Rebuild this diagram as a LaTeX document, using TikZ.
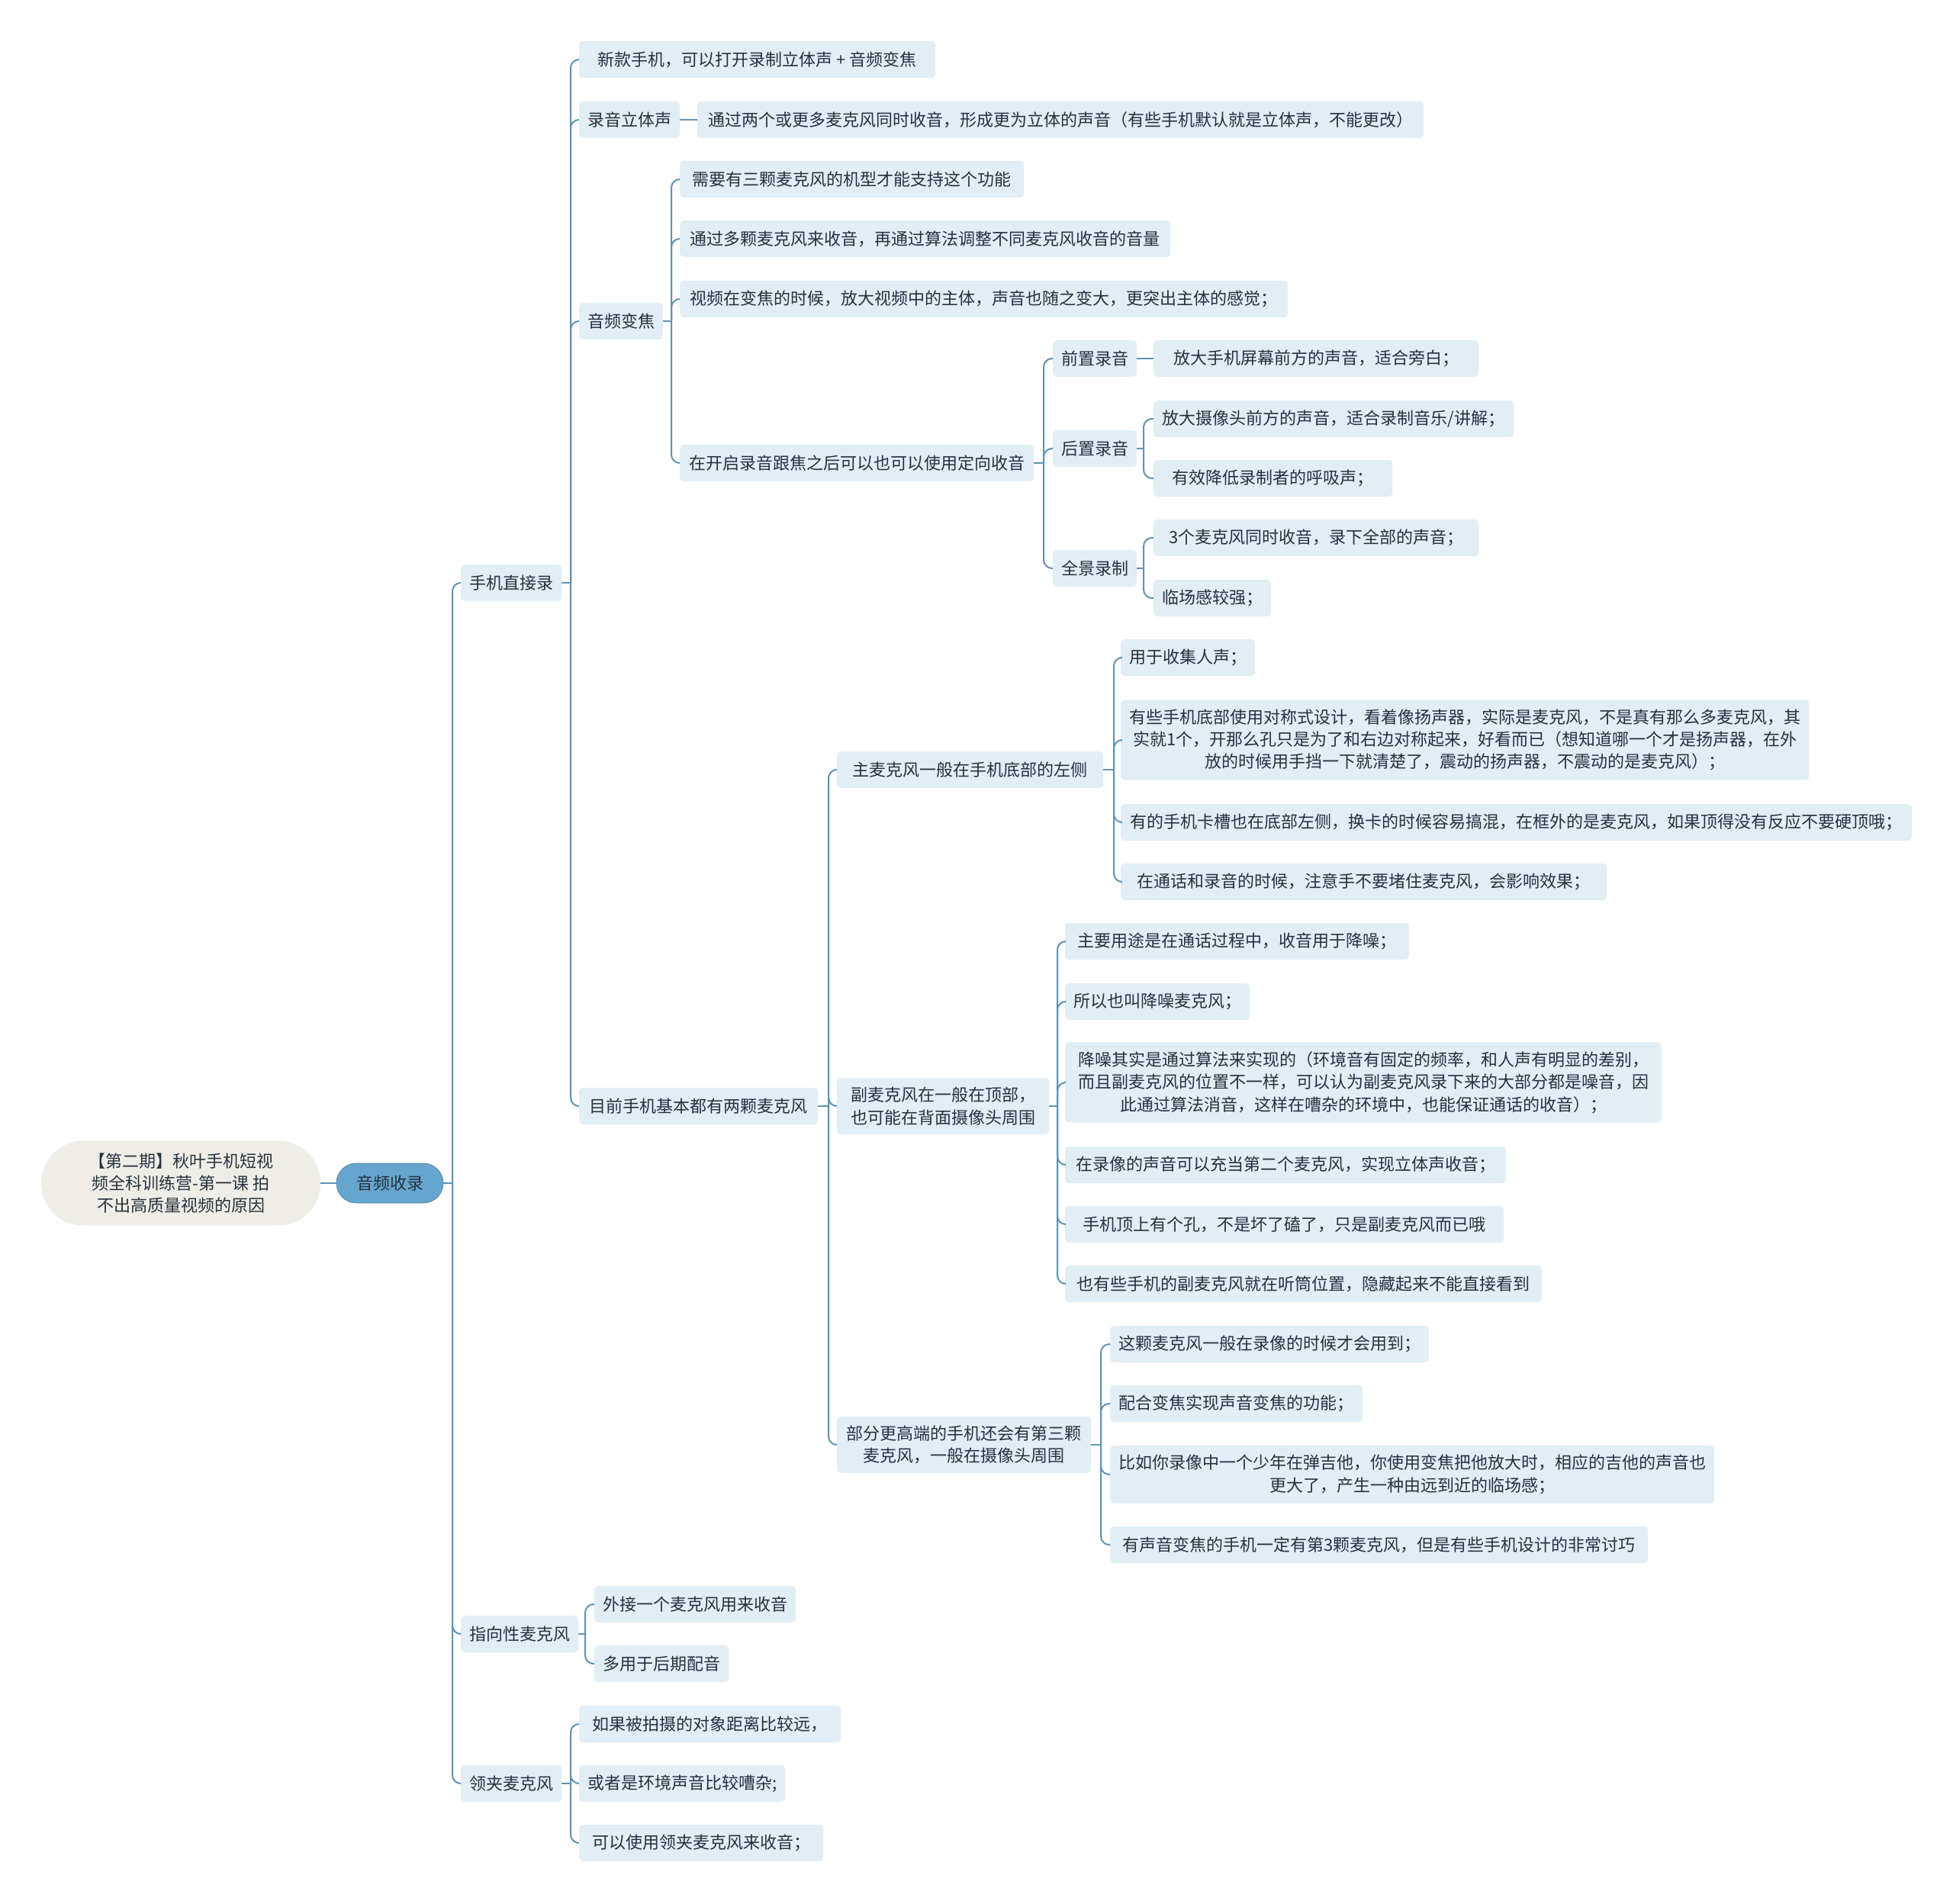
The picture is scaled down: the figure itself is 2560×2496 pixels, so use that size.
\documentclass[tikz,border=0pt]{standalone}
\usepackage{fontspec}
\newfontfamily\cjk{Noto Sans CJK SC}
\usetikzlibrary{positioning}
\definecolor{linec}{HTML}{5F93B2}
\definecolor{boxc}{HTML}{E1EEF6}
\definecolor{rootc}{HTML}{EFEEE6}
\definecolor{mainc}{HTML}{66A6CE}
\definecolor{txtc}{HTML}{25323E}

\begin{document}
\begin{tikzpicture}[x=1pt,y=-1pt,
  every node/.style={font=\cjk\fontsize{22}{29.4}\selectfont,text=txtc},
  topic/.style={anchor=west,fill=boxc,rounded corners=5pt,inner xsep=11pt,inner ysep=12pt,minimum height=48pt,align=center},
  root/.style={fill=rootc,rounded corners=55pt,minimum width=366pt,minimum height=111pt,align=center},
  main/.style={fill=mainc,draw=mainc!80!black,line width=0.8pt,rounded corners=26pt,minimum width=140pt,minimum height=52pt},
  link/.style={draw=linec,line width=2pt,rounded corners=11pt}]
  \useasboundingbox[fill=white] (0,0) rectangle (2560,2496);

  % centre
  \node[root] (root) at (237,1551) {【第二期】秋叶手机短视\\频全科训练营-第一课 拍\\不出高质量视频的原因};
  \node[main] (audio) at (511,1551) {音频收录};

  \node[topic] (zhijie) at (604,764) {手机直接录};
  \node[topic] (zhixiang) at (604,2142) {指向性麦克风};
  \node[topic] (lingjia) at (604,2338) {领夹麦克风};

  % 手机直接录
  \node[topic,minimum width=467pt] (xinkuan) at (759,78) {新款手机，可以打开录制立体声 + 音频变焦};
  \node[topic] (luyin) at (759,157) {录音立体声};
  \node[topic,minimum width=952pt] (liti) at (914,157) {通过两个或更多麦克风同时收音，形成更为立体的声音（有些手机默认就是立体声，不能更改）};
  \node[topic] (bianjiao) at (759,421) {音频变焦};
  \node[topic,minimum width=451pt] (sanke) at (891,235) {需要有三颗麦克风的机型才能支持这个功能};
  \node[topic,minimum width=643pt] (duoke) at (891,313) {通过多颗麦克风来收音，再通过算法调整不同麦克风收音的音量};
  \node[topic,minimum width=797pt] (shipin) at (891,392) {视频在变焦的时候，放大视频中的主体，声音也随之变大，更突出主体的感觉；};
  \node[topic,minimum width=464pt] (dingxiang) at (891,607) {在开启录音跟焦之后可以也可以使用定向收音};
  \node[topic] (qianzhi) at (1380,470) {前置录音};
  \node[topic,minimum width=426pt] (pangbai) at (1512,470) {放大手机屏幕前方的声音，适合旁白；};
  \node[topic] (houzhi) at (1380,588) {后置录音};
  \node[topic,minimum width=472pt] (yinyue) at (1512,549) {放大摄像头前方的声音，适合录制音乐/讲解；};
  \node[topic,minimum width=313pt] (huxi) at (1512,627) {有效降低录制者的呼吸声；};
  \node[topic] (quanjing) at (1380,745) {全景录制};
  \node[topic,minimum width=426pt] (quanbu) at (1512,705) {3个麦克风同时收音，录下全部的声音；};
  \node[topic] (linchang) at (1512,784) {临场感较强；};
  \node[topic,minimum width=313pt] (liangke) at (759,1450) {目前手机基本都有两颗麦克风};

  % 主麦克风
  \node[topic,minimum width=349pt] (zhumai) at (1097,1009) {主麦克风一般在手机底部的左侧};
  \node[topic] (renshen) at (1469,862) {用于收集人声；};
  \node[topic,minimum width=898pt] (duichen) at (1469,970) {有些手机底部使用对称式设计，看着像扬声器，实际是麦克风，不是真有那么多麦克风，其\\实就1个，开那么孔只是为了和右边对称起来，好看而已（想知道哪一个才是扬声器，在外\\放的时候用手挡一下就清楚了，震动的扬声器，不震动的是麦克风）；};
  \node[topic,minimum width=1037pt] (kacao) at (1469,1078) {有的手机卡槽也在底部左侧，换卡的时候容易搞混，在框外的是麦克风，如果顶得没有反应不要硬顶哦；};
  \node[topic,minimum width=637pt] (dusai) at (1469,1156) {在通话和录音的时候，注意手不要堵住麦克风，会影响效果；};

  % 副麦克风
  \node[topic,minimum width=278pt] (fumai) at (1097,1450) {副麦克风在一般在顶部，\\也可能在背面摄像头周围};
  \node[topic,minimum width=451pt] (jiangzao) at (1396,1234) {主要用途是在通话过程中，收音用于降噪；};
  \node[topic] (jzmai) at (1396,1313) {所以也叫降噪麦克风；};
  \node[topic,minimum width=782pt] (suanfa) at (1396,1419) {降噪其实是通过算法来实现的（环境音有固定的频率，和人声有明显的差别，\\而且副麦克风的位置不一样，可以认为副麦克风录下来的大部分都是噪音，因\\此通过算法消音，这样在嘈杂的环境中，也能保证通话的收音）；};
  \node[topic,minimum width=578pt] (chongdang) at (1396,1527) {在录像的声音可以充当第二个麦克风，实现立体声收音；};
  \node[topic,minimum width=575pt] (kongdong) at (1396,1605) {手机顶上有个孔，不是坏了磕了，只是副麦克风而已哦};
  \node[topic,minimum width=625pt] (tingtong) at (1396,1683) {也有些手机的副麦克风就在听筒位置，隐藏起来不能直接看到};

  % 第三颗
  \node[topic,minimum width=333pt] (disan) at (1097,1894) {部分更高端的手机还会有第三颗\\麦克风，一般在摄像头周围};
  \node[topic,minimum width=416pt] (luxiang) at (1455,1762) {这颗麦克风一般在录像的时候才会用到；};
  \node[topic,minimum width=331pt] (peihe) at (1455,1840) {配合变焦实现声音变焦的功能；};
  \node[topic,minimum width=790pt] (jita) at (1455,1933) {比如你录像中一个少年在弹吉他，你使用变焦把他放大时，相应的吉他的声音也\\更大了，产生一种由远到近的临场感；};
  \node[topic,minimum width=705pt] (taoqiao) at (1455,2025) {有声音变焦的手机一定有第3颗麦克风，但是有些手机设计的非常讨巧};

  % 指向性 / 领夹
  \node[topic] (waijie) at (779,2103) {外接一个麦克风用来收音};
  \node[topic] (peiyin) at (779,2181) {多用于后期配音};
  \node[topic,minimum width=343pt] (yuan) at (759,2260) {如果被拍摄的对象距离比较远，};
  \node[topic] (cauza) at (759,2338) {或者是环境声音比较嘈杂;};
  \node[topic,minimum width=320pt] (shiyong) at (759,2416) {可以使用领夹麦克风来收音；};

  % junctions
  \coordinate (jaudio) at (593,1551);
  \coordinate (jzhijie) at (748,764);
  \coordinate (jbianjiao) at (880,421);
  \coordinate (jdingxiang) at (1368,607);
  \coordinate (jhouzhi) at (1499,588);
  \coordinate (jquanjing) at (1499,745);
  \coordinate (jliangke) at (1086,1450);
  \coordinate (jzhumai) at (1460,1009);
  \coordinate (jfumai) at (1386,1450);
  \coordinate (jdisan) at (1443,1894);
  \coordinate (jzhixiang) at (767,2142);
  \coordinate (jlingjia) at (748,2338);

  % connectors
  \draw[link] (root) -- (audio);
  \draw[link] (luyin) -- (liti);
  \draw[link] (qianzhi) -- (pangbai);
  \foreach \p/\kids in {audio/{zhijie,zhixiang,lingjia},
      zhijie/{xinkuan,luyin,bianjiao,liangke},
      bianjiao/{sanke,duoke,shipin,dingxiang},
      dingxiang/{qianzhi,houzhi,quanjing},
      houzhi/{yinyue,huxi},
      quanjing/{quanbu,linchang},
      liangke/{zhumai,fumai,disan},
      zhumai/{renshen,duichen,kacao,dusai},
      fumai/{jiangzao,jzmai,suanfa,chongdang,kongdong,tingtong},
      disan/{luxiang,peihe,jita,taoqiao},
      zhixiang/{waijie,peiyin},
      lingjia/{yuan,cauza,shiyong}}{
    \draw[link] (\p.east) -- (j\p);
    \foreach \c in \kids \draw[link] (j\p) |- (\c.west);
  }
\end{tikzpicture}
\end{document}
